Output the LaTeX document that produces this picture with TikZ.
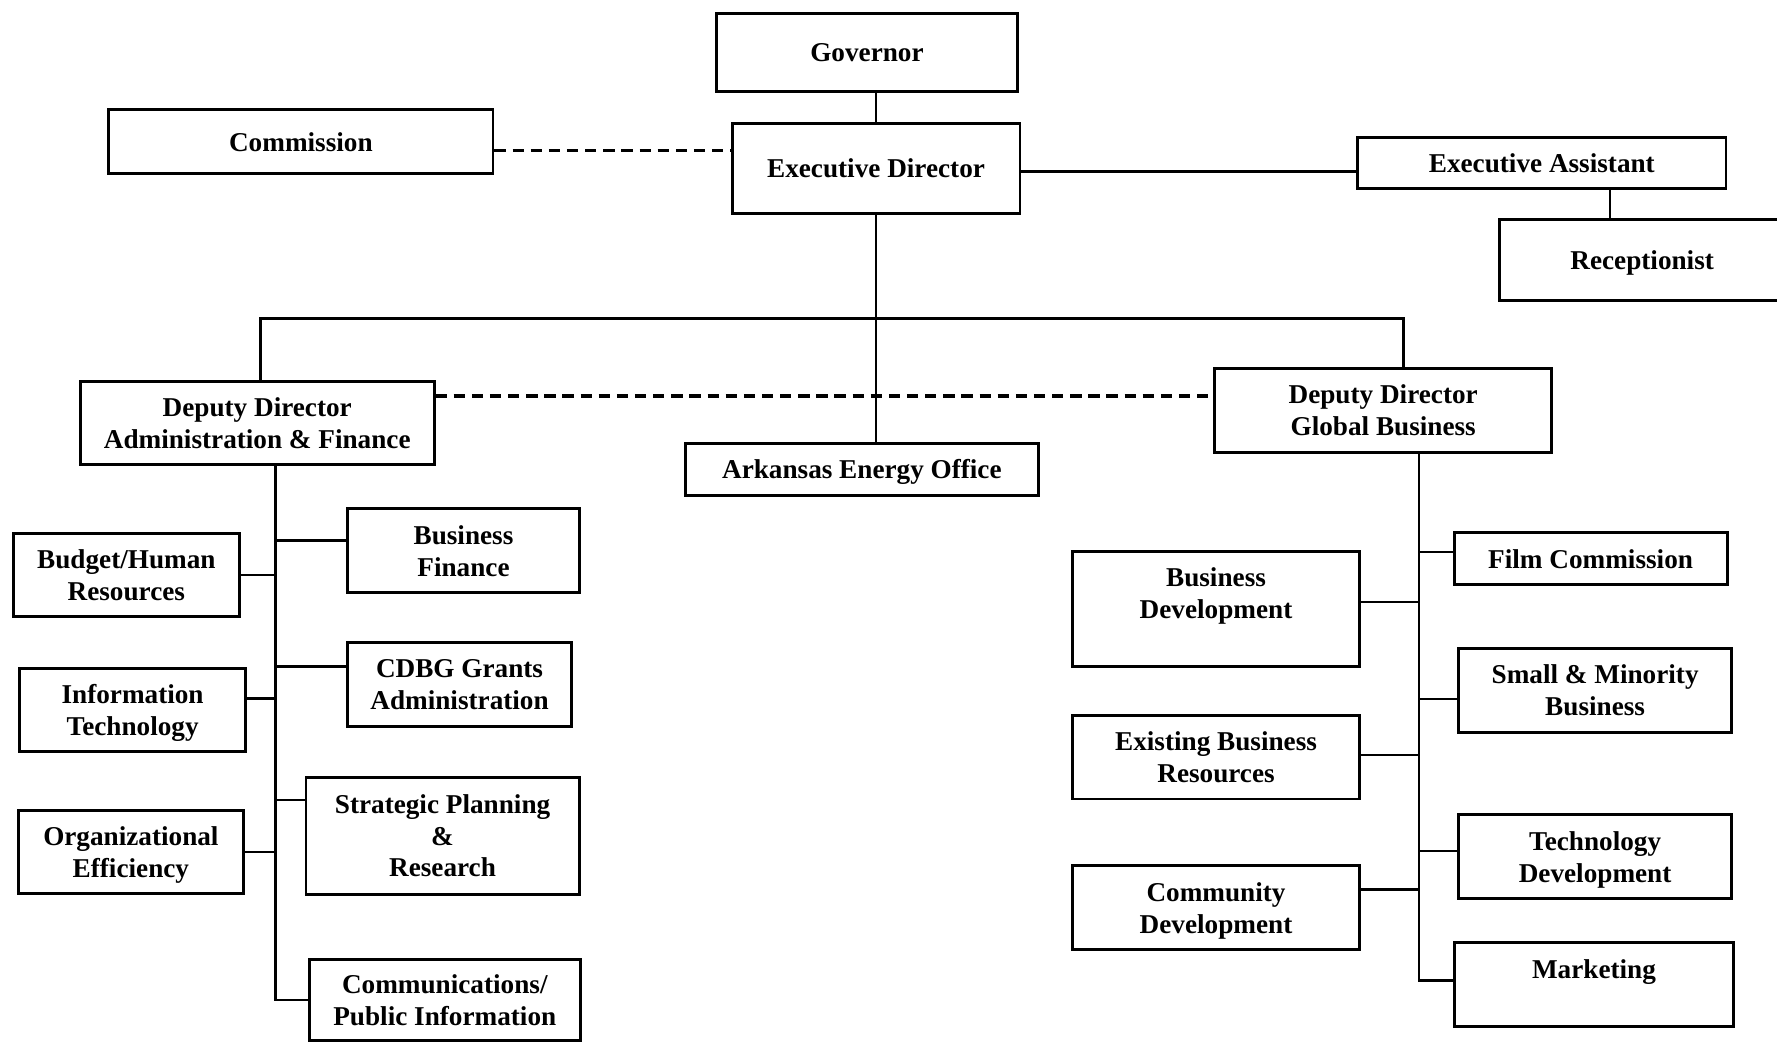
\documentclass[tikz,border=0pt]{standalone}
\usepackage{fontspec}
\setmainfont{Liberation Serif}
\usetikzlibrary{positioning}
\tikzset{%
    unit/.style={draw,line width=1.3pt,align=center,inner sep=1pt,text depth=0pt,
        font=\bfseries\fontsize{12}{14}\selectfont},
    std/.style={minimum width=127pt,minimum height=37pt},
    side/.style={minimum width=99.5pt,minimum height=36.5pt},
    link/.style={line width=1.1pt},
    dlink/.style={line width=1.5pt,dash pattern=on 5pt off 3pt}
}

\begin{document}
\begin{tikzpicture}[x=0.5pt,y=-0.5pt]
\useasboundingbox (0,0) rectangle (1568,919);
            % top
            \node [unit,minimum width=133pt,minimum height=34.5pt] (gov) at (765,46.5) {Governor};
            \node [unit,minimum width=169.5pt,minimum height=28pt] (comm) at (265.5,125) {Commission};
            \node [unit,minimum width=127pt,minimum height=39.5pt] (exec) at (773,148.5) {Executive Director};
            \node [unit,minimum width=162.5pt,minimum height=22.5pt] (exasst) at (1360.5,143.5) {Executive Assistant};
            \node [unit,minimum width=126pt,minimum height=35.5pt] (recep) at (1449,229.5) {Receptionist};
            % deputies
            \node [unit,minimum width=156pt,minimum height=36.5pt] (ddaf) at (227,373.5) {Deputy Director\\Administration \& Finance};
            \node [unit,minimum width=155.5pt,minimum height=23pt] (aeo) at (760.5,414) {Arkansas Energy Office};
            \node [unit,minimum width=148.5pt,minimum height=37pt] (ddgb) at (1220.5,362) {Deputy Director\\Global Business};
            % administration & finance
            \node [unit,side] (bhr) at (111.5,507.5) {Budget/Human\\Resources};
            \node [unit,minimum width=102pt,minimum height=37pt] (bf) at (409,486) {Business\\Finance};
            \node [unit,side] (it) at (117,626.5) {Information\\Technology};
            \node [unit,minimum width=98.5pt,minimum height=37pt] (cdbg) at (405.5,604) {CDBG Grants\\Administration};
            \node [unit,side] (oe) at (115.5,752) {Organizational\\Efficiency};
            \node [unit,minimum width=120.5pt,minimum height=51.5pt] (spr) at (390.5,737.5) {Strategic Planning\\\&\\Research};
            \node [unit,minimum width=119.5pt,minimum height=35.5pt] (comms) at (392.5,882.5) {Communications/\\Public Information};
            % global business
            \node [unit,minimum width=127pt,minimum height=50.5pt] (bd) at (1073,537.5) {Business\\Development\\~};
            \node [unit,std] (ebr) at (1073,668) {Existing Business\\Resources};
            \node [unit,std] (cd) at (1073,801) {Community\\Development};
            \node [unit,minimum width=120.5pt,minimum height=23pt] (film) at (1403.5,493) {Film Commission};
            \node [unit,minimum width=120.5pt,minimum height=37pt] (smb) at (1407.5,609) {Small \& Minority\\Business};
            \node [unit,minimum width=120.5pt,minimum height=37pt] (td) at (1407.5,756) {Technology\\Development};
            \node [unit,minimum width=123.5pt,minimum height=37pt] (mkt) at (1406.5,869) {Marketing\\~};
            %%%%%
            \coordinate (bus) at (773,281);
            \coordinate (lspine) at ([xshift=8pt]ddaf.south);
            \coordinate (rspine) at ([xshift=15.75pt]ddgb.south);
            \draw[link] (exec.north |- gov.south) -- (exec.north);
            \draw[dlink] ([yshift=-4pt]comm.east) -- ([yshift=-4pt]comm.east -| exec.west);
            \draw[link] ([yshift=-4pt]exasst.west -| exec.east) -- ([yshift=-4pt]exasst.west);
            \draw[link] ([xshift=30pt]exasst.south) -- ([xshift=30pt]exasst.south |- recep.north);
            \draw[link] (exec.south) -- (exec.south |- aeo.north);
            \draw[link] ([xshift=1.5pt]ddaf.north) |- (bus) -| ([xshift=9pt]ddgb.north);
            \draw[dlink] ([yshift=12pt]ddaf.east) -- ([yshift=12pt]ddaf.east -| ddgb.west);
            % left spine
            \draw[link] (lspine) |- (comms.west);
            \draw[link] (bhr.east) -- (bhr.east -| lspine);
            \draw[link] ([yshift=4.5pt]bf.west) -- ([yshift=4.5pt]bf.west -| lspine);
            \draw[link] ([yshift=5pt]it.east) -- ([yshift=5pt]it.east -| lspine);
            \draw[link] ([yshift=8pt]cdbg.west) -- ([yshift=8pt]cdbg.west -| lspine);
            \draw[link] (oe.east) -- (oe.east -| lspine);
            \draw[link] ([yshift=15.75pt]spr.west) -- ([yshift=15.75pt]spr.west -| lspine);
            % right spine
            \draw[link] (rspine) |- ([yshift=2pt]mkt.west);
            \draw[link] ([yshift=3pt]film.west) -- ([yshift=3pt]film.west -| rspine);
            \draw[link] ([yshift=3.25pt]bd.east) -- ([yshift=3.25pt]bd.east -| rspine);
            \draw[link] ([yshift=-4pt]smb.west) -- ([yshift=-4pt]smb.west -| rspine);
            \draw[link] ([yshift=1pt]ebr.east) -- ([yshift=1pt]ebr.east -| rspine);
            \draw[link] ([yshift=2.5pt]td.west) -- ([yshift=2.5pt]td.west -| rspine);
            \draw[link] ([yshift=8pt]cd.east) -- ([yshift=8pt]cd.east -| rspine);
\end{tikzpicture}
\end{document}
